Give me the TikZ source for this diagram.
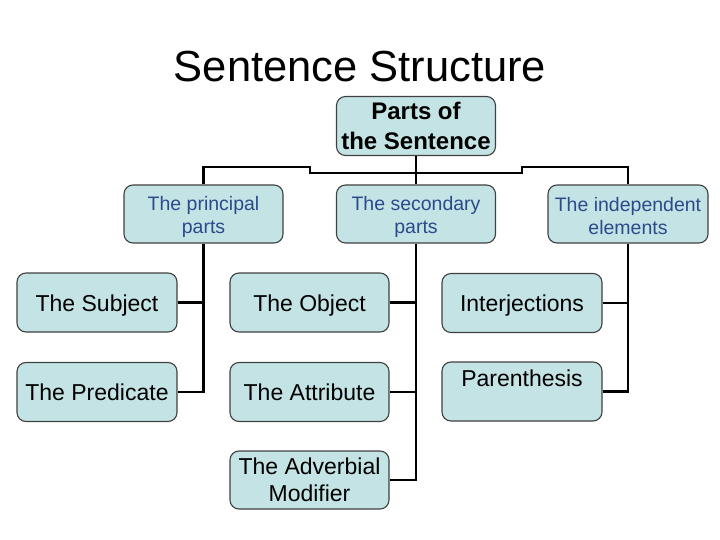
\documentclass[tikz,border=0pt]{standalone}
\usepackage{fontspec}
\setmainfont{Liberation Sans}
\definecolor{boxfill}{HTML}{C4E3E4}
\definecolor{boxline}{HTML}{404040}
\definecolor{bluetext}{HTML}{2B4A8C}
\begin{document}
\begin{tikzpicture}[x=1pt,y=-1pt,
  box/.style={draw=boxline, line width=1.1pt, fill=boxfill, rounded corners=9pt,
    rectangle, inner sep=0pt, align=center, minimum width=159pt},
  topbox/.style={box, minimum height=59pt, font=\fontsize{24}{30}\selectfont\bfseries},
  midbox/.style={box, minimum height=58pt},
  midtext/.style={align=center, inner sep=0pt, yshift=-2.5pt, text=bluetext,
    font=\fontsize{19.5}{23}\selectfont},
  leafbox/.style={box, minimum height=59pt, font=\fontsize{23}{27}\selectfont},
  oneline/.style={text height=22pt, text depth=5pt},
  conn/.style={line width=2.4pt, black}]
\useasboundingbox (0,0) rectangle (720,540);
\node (title) at (360,66.5) {\fontsize{43.5}{50}\selectfont Sentence Structure};
\node[topbox] (top) at (416,126) {Parts of\\the Sentence};
\node[midbox, label={[midtext]center:{The principal\\parts}}] (prin) at (203.5,214) {};
\node[midbox, label={[midtext]center:{The secondary\\parts}}] (sec) at (416,214) {};
\node[midbox, minimum width=160pt, label={[midtext]center:{The independent\\elements}}] (ind) at (628,214) {};
\node[leafbox, oneline, minimum width=160pt] (subj) at (97,302.5) {The Subject};
\node[leafbox, oneline, minimum width=160pt] (pred) at (97,392) {The Predicate};
\node[leafbox, oneline] (obj) at (309.5,302.5) {The Object};
\node[leafbox, oneline] (attr) at (309.5,392) {The Attribute};
\node[leafbox, minimum height=58pt] (adv) at (309.5,480) {The Adverbial\\Modifier};
\node[leafbox, oneline, minimum width=160pt] (inter) at (522,303) {Interjections};
\node[leafbox, minimum width=160pt, label={[anchor=base, yshift=-25pt, font=\fontsize{23}{27}\selectfont]north:Parenthesis}] (par) at (522,391.5) {};
\coordinate (b1) at (310,167);
\coordinate (b2) at (310,173);
\coordinate (b3) at (522,173);
\coordinate (b4) at (522,167);
\draw[conn] (top.south) -- (sec.north);
\draw[conn] (prin.north) |- (b1) -- (b2) -- (b3) -- (b4) -| (ind.north);
\draw[conn] (prin.south) |- (pred.east);
\draw[conn] (subj.east) -- (subj.east -| prin.south);
\draw[conn] (sec.south) |- (adv.east);
\draw[conn] (obj.east) -- (obj.east -| sec.south);
\draw[conn] (attr.east) -- (attr.east -| sec.south);
\draw[conn] (ind.south) |- (par.east);
\draw[conn] (inter.east) -- (inter.east -| ind.south);
\end{tikzpicture}
\end{document}
